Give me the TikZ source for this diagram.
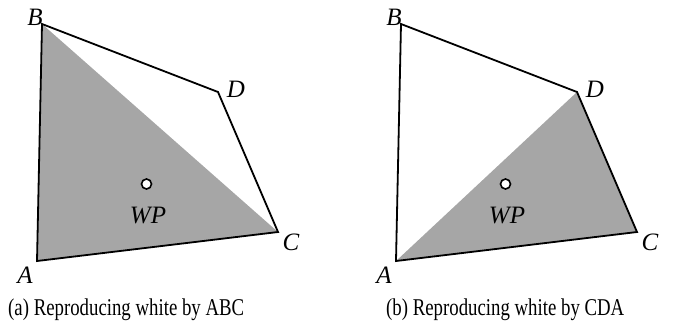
\documentclass[tikz,border=0pt]{standalone}
\usepackage{fontspec}
\setmainfont{Liberation Serif}
\definecolor{fillgray}{RGB}{166,166,166}
\begin{document}
\begin{tikzpicture}[x=1pt,y=-1pt,
  edge/.style={line width=1.8pt,line join=miter},
  lbl/.style={font=\fontsize{25}{26}\selectfont\itshape,inner sep=0pt},
  captext/.style={font=\fontsize{18.8}{20}\selectfont,inner sep=0pt,anchor=base west,yscale=1.28},
  wpdot/.style={circle,draw,line width=1.6pt,fill=white,minimum size=10pt,inner sep=0pt}]
\useasboundingbox (0,0) rectangle (683,333);
% left
\coordinate (lA) at (37,261);
\coordinate (lB) at (42,24);
\coordinate (lC) at (278,232);
\coordinate (lD) at (218,92);
\fill[fillgray] (lA) -- (lB) -- (lC) -- cycle;
\draw[edge] (lA) -- (lB) -- (lD) -- (lC) -- cycle;
\node[wpdot] (lwp) at (146.5,184) {};
\node[lbl] (lwpt) at (148,215) {WP};
\node[lbl] (lBt) at (35,17) {B};
\node[lbl] (lDt) at (236,89) {D};
\node[lbl] (lCt) at (291,242) {C};
\node[lbl] (lAt) at (25,275) {A};
% right
\coordinate (rA) at (396,261);
\coordinate (rB) at (401,24);
\coordinate (rC) at (637,232);
\coordinate (rD) at (577,92);
\fill[fillgray] (rC) -- (rD) -- (rA) -- cycle;
\draw[edge] (rA) -- (rB) -- (rD) -- (rC) -- cycle;
\node[wpdot] (rwp) at (505.5,184) {};
\node[lbl] (rwpt) at (507,215) {WP};
\node[lbl] (rBt) at (394,17) {B};
\node[lbl] (rDt) at (595,89) {D};
\node[lbl] (rCt) at (650,242) {C};
\node[lbl] (rAt) at (384,275) {A};
% captions
\node[captext] (capa) at (8,315) {(a) Reproducing white by ABC};
\node[captext] (capb) at (386,315) {(b) Reproducing white by CDA};
\end{tikzpicture}
\end{document}
